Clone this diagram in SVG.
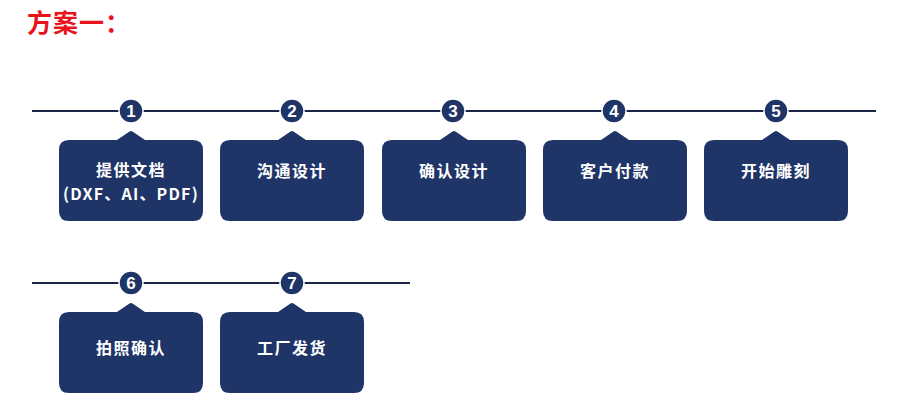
<svg xmlns="http://www.w3.org/2000/svg" width="901" height="412" viewBox="0 0 901 412">
<style>
.line{stroke:#1b2748;stroke-width:2;fill:none}
.circ{fill:#1f3567;stroke:#ffffff;stroke-width:1.5}
.num{fill:#ffffff;font-family:"Liberation Sans","Noto Sans",sans-serif;font-weight:bold;font-size:17px;text-anchor:middle}
.box{fill:#1f3567}
.lbl{fill:#ffffff;font-family:"Noto Sans CJK SC","Noto Sans",sans-serif;font-weight:bold;font-size:16px;text-anchor:middle;letter-spacing:1.5px}
.title{fill:#e8141b;font-family:"Noto Sans CJK SC",sans-serif;font-weight:bold;font-size:25px;letter-spacing:1px}
</style>
<defs>
<path id="callout" d="M-62,0 L-14,0 L-1.5,-8.5 Q0,-9.5 1.5,-8.5 L14,0 L62,0 Q72,0 72,10 L72,71 Q72,81 62,81 L-62,81 Q-72,81 -72,71 L-72,10 Q-72,0 -62,0 Z"/>
</defs>
<rect width="901" height="412" fill="#ffffff"/>
<text class="title" x="27" y="32">方案一：</text>
<g id="connectors">
<line class="line" x1="32" y1="111" x2="876" y2="111"/>
<line class="line" x1="32" y1="283" x2="410" y2="283"/>
</g>
<g id="node1">
<circle class="circ" cx="131" cy="111" r="12"/>
<text class="num" x="131" y="117">1</text>
<use href="#callout" class="box" x="131" y="140"/>
<text class="lbl" x="131" y="176">提供文档</text>
<text class="lbl" x="131" y="200" style="letter-spacing:1.2px">(DXF、AI、PDF)</text>
</g>
<g id="node2">
<circle class="circ" cx="292" cy="111" r="12"/>
<text class="num" x="292" y="117">2</text>
<use href="#callout" class="box" x="292" y="140"/>
<text class="lbl" x="292" y="177">沟通设计</text>
</g>
<g id="node3">
<circle class="circ" cx="453" cy="111" r="12"/>
<text class="num" x="453" y="117">3</text>
<use href="#callout" class="box" x="454" y="140"/>
<text class="lbl" x="454" y="177">确认设计</text>
</g>
<g id="node4">
<circle class="circ" cx="614" cy="111" r="12"/>
<text class="num" x="614" y="117">4</text>
<use href="#callout" class="box" x="615" y="140"/>
<text class="lbl" x="615" y="177">客户付款</text>
</g>
<g id="node5">
<circle class="circ" cx="776" cy="111" r="12"/>
<text class="num" x="776" y="117">5</text>
<use href="#callout" class="box" x="776" y="140"/>
<text class="lbl" x="776" y="177">开始雕刻</text>
</g>
<g id="node6">
<circle class="circ" cx="131" cy="283" r="12"/>
<text class="num" x="131" y="289">6</text>
<use href="#callout" class="box" x="131" y="312"/>
<text class="lbl" x="131" y="354">拍照确认</text>
</g>
<g id="node7">
<circle class="circ" cx="292" cy="283" r="12"/>
<text class="num" x="292" y="289">7</text>
<use href="#callout" class="box" x="292" y="312"/>
<text class="lbl" x="292" y="354">工厂发货</text>
</g>
</svg>
